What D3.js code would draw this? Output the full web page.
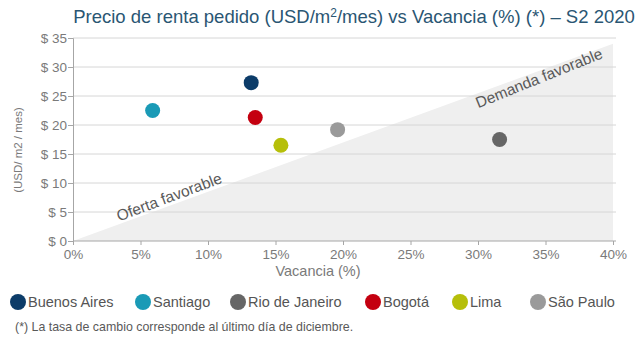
<!DOCTYPE html>
<html lang="es">
  <head>
    <meta charset="UTF-8">
    <title>Precio de renta vs Vacancia</title>
    <style>
      html,body{ margin:0; padding:0; background:#fff; }
      svg text{ font-family: "Liberation Sans", Arial, sans-serif; }
    </style>
  </head>
  <body>
    <div id="chart"></div>
    <script src="https://cdnjs.cloudflare.com/ajax/libs/d3/7.8.5/d3.min.js"></script>
    <script>
      // datos
      var ciudades = ["Buenos Aires","Santiago","Rio de Janeiro","Bogotá","Lima","São Paulo"];
      var vacancia = [13.2, 5.9, 31.6, 13.5, 15.4, 19.6];
      var precio   = [27.3, 22.5, 17.5, 21.3, 16.5, 19.2];
      var colores  = ["#0c3c69","#1a9ab6","#666666","#c40010","#b6bf0a","#9a9a9a"];
      var xTicks = [0,5,10,15,20,25,30,35,40];
      var yTicks = [0,5,10,15,20,25,30,35];

      var W = 640, H = 338;
      var m = {left:73, right:27, top:38, bottom:97};

      var svg = d3.select("#chart").append("svg")
        .attr("width", W).attr("height", H);

      var x = d3.scaleLinear().domain([0,40]).range([m.left, W - m.right]);
      var y = d3.scaleLinear().domain([0,35]).range([H - m.bottom, m.top]);

      // zona sombreada
      var tri = [[0,0],[40,34],[40,0]];
      svg.append("path")
        .attr("d", d3.line().x(function(d){return x(d[0]);}).y(function(d){return y(d[1]);})(tri) + "Z")
        .attr("fill","#efefef");

      // grilla
      svg.append("g").selectAll("line").data(yTicks.slice(1)).enter().append("line")
        .attr("x1", x(0)).attr("x2", x(40)+3)
        .attr("y1", function(d){return y(d);}).attr("y2", function(d){return y(d);})
        .attr("stroke","#d6d6d6").attr("stroke-width",1);

      // ejes
      var gx = svg.append("g").attr("transform","translate(0,"+y(0)+")")
        .call(d3.axisBottom(x).tickValues(xTicks).tickSize(4).tickFormat(function(d){return d+"%";}));
      var gy = svg.append("g").attr("transform","translate("+x(0)+",0)")
        .call(d3.axisLeft(y).tickValues(yTicks).tickSize(5).tickFormat(function(d){return "$ "+d;}));
      [gx,gy].forEach(function(g){
        g.select(".domain").attr("stroke","#a6a6a6");
        g.selectAll(".tick line").attr("stroke","#a6a6a6");
        g.selectAll(".tick text").attr("fill","#7a7a7a").style("font-size","13.5px");
      });
      gx.select(".domain").attr("d","M"+x(0)+",0H"+(x(40)+3));
      gx.selectAll(".tick text").attr("dy","0.85em");
      gy.selectAll(".tick text").attr("x",-6);

      // anotaciones
      svg.append("text").attr("transform","translate(171,202) rotate(-20.5)")
        .attr("text-anchor","middle").attr("fill","#595959").style("font-size","15.5px")
        .text("Oferta favorable");
      svg.append("text").attr("transform","translate(541,83) rotate(-22)")
        .attr("text-anchor","middle").attr("fill","#595959").style("font-size","15.5px")
        .text("Demanda favorable");

      // puntos
      svg.append("g").selectAll("circle").data(ciudades).enter().append("circle")
        .attr("cx", function(d,i){return x(vacancia[i]);})
        .attr("cy", function(d,i){return y(precio[i]);})
        .attr("r", 7.5)
        .attr("fill", function(d,i){return colores[i];});

      // titulos
      var t = svg.append("text").attr("x", 354).attr("y", 23).attr("text-anchor","middle")
        .attr("fill","#2a5673").style("font-size","18.5px");
      t.append("tspan").text("Precio de renta pedido (USD/m");
      t.append("tspan").attr("dy",-6).style("font-size","12px").text("2");
      t.append("tspan").attr("dy",6).text("/mes) vs Vacancia (%) (*) – S2 2020");

      svg.append("text").attr("transform","translate(22,150) rotate(-90)")
        .attr("text-anchor","middle").attr("fill","#7a7a7a").style("font-size","11.5px")
        .text("(USD/ m2 / mes)");
      svg.append("text").attr("x", 318).attr("y", 276).attr("text-anchor","middle")
        .attr("fill","#7a7a7a").style("font-size","14.5px").text("Vacancia (%)");

      // leyenda
      var legX = [18, 143, 238, 373, 460, 538];
      var leg = svg.append("g").selectAll("g").data(ciudades).enter().append("g")
        .attr("transform", function(d,i){return "translate("+legX[i]+",302)";});
      leg.append("circle").attr("r",8).attr("fill", function(d,i){return colores[i];});
      leg.append("text").attr("x",10).attr("y",5).attr("fill","#555").style("font-size","14.5px")
        .text(function(d){return d;});

      svg.append("text").attr("x",15).attr("y",331).attr("fill","#595959").style("font-size","12.4px")
        .text("(*) La tasa de cambio corresponde al último día de diciembre.");
    </script>
  </body>
</html>
